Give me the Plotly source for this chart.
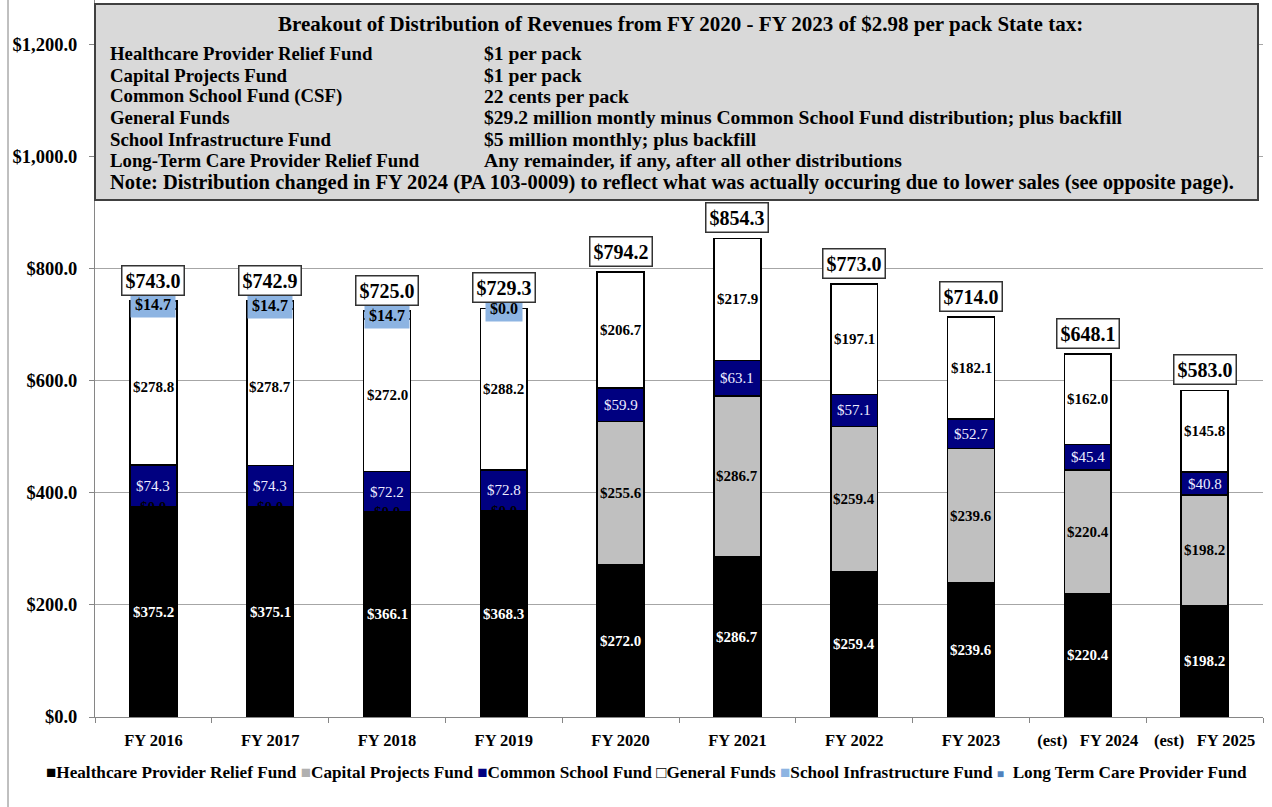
import plotly.graph_objects as go

# ---- data ($ millions) ----
years = ["FY 2016", "FY 2017", "FY 2018", "FY 2019", "FY 2020",
         "FY 2021", "FY 2022", "FY 2023", "FY 2024", "FY 2025"]
year_labels = ["FY 2016", "FY 2017", "FY 2018", "FY 2019", "FY 2020",
               "FY 2021", "FY 2022", "FY 2023",
               "(est)\u00a0\u00a0\u00a0FY 2024", "(est)\u00a0\u00a0\u00a0FY 2025"]

healthcare = [375.2, 375.1, 366.1, 368.3, 272.0, 286.7, 259.4, 239.6, 220.4, 198.2]
capital = [0.0, 0.0, 0.0, 0.0, 255.6, 286.7, 259.4, 239.6, 220.4, 198.2]
common_school = [74.3, 74.3, 72.2, 72.8, 59.9, 63.1, 57.1, 52.7, 45.4, 40.8]
general = [278.8, 278.7, 272.0, 288.2, 206.7, 217.9, 197.1, 182.1, 162.0, 145.8]
school_infra = [14.7, 14.7, 14.7, 0.0, None, None, None, None, None, None]
long_term_care = [0.0] * 10
totals = [743.0, 742.9, 725.0, 729.3, 794.2, 854.3, 773.0, 714.0, 648.1, 583.0]

y_ticks = [0, 200, 400, 600, 800, 1000, 1200]

series = [
    ("Healthcare Provider Relief Fund", healthcare, "#000000"),
    ("Capital Projects Fund", capital, "#C0C0C0"),
    ("Common School Fund", common_school, "#000080"),
    ("General Funds", general, "#FFFFFF"),
    ("School Infrastructure Fund", school_infra, "#8DB4E2"),
    ("Long Term Care Provider Fund", long_term_care, "#4F81BD"),
]

# label styling per series: (color, bold, bgcolor, size)
label_style = {
    "Healthcare Provider Relief Fund": ("#FFFFFF", True, None, 15),
    "Capital Projects Fund": ("#000000", True, None, 15),
    "Common School Fund": ("#EEEEFF", False, None, 15),
    "General Funds": ("#000000", True, None, 15),
    "School Infrastructure Fund": ("#000000", True, "#8DB4E2", 16),
}

box_rows = [
    ("Healthcare Provider Relief Fund", "$1 per pack"),
    ("Capital Projects Fund", "$1 per pack"),
    ("Common School Fund (CSF)", "22 cents per pack"),
    ("General Funds", "$29.2 million montly minus Common School Fund distribution; plus backfill"),
    ("School Infrastructure Fund", "$5 million monthly; plus backfill"),
    ("Long-Term Care Provider Relief Fund", "Any remainder, if any, after all other distributions"),
]
box_title = "Breakout of Distribution of Revenues from FY 2020 - FY 2023 of $2.98 per pack State tax:"
box_note = ("Note: Distribution changed in FY 2024 (PA 103-0009) to reflect what was actually "
            "occuring due to lower sales (see opposite page).")

FONT = "Liberation Serif, Times New Roman, serif"
W, H = 1272, 807
ML, MR, MT, MB = 95, 9, 0, 90
PW, PH = W - ML - MR, H - MT - MB


def px_x(x):
    return (x - ML) / PW


def px_y(y):
    return (H - MB - y) / PH


fig = go.Figure()

for name, vals, color in series:
    fig.add_trace(go.Bar(
        x=years,
        y=[v if v is not None else 0 for v in vals],
        name=name,
        marker=dict(color=color, line=dict(color="#000000", width=1.5)),
        showlegend=False,
        hoverinfo="y+name",
    ))

annotations = []

# segment data labels at the middle of each stacked segment
base = [0.0] * len(years)
for name, vals, color in series:
    for i, v in enumerate(vals):
        if v is None:
            continue
        if name in label_style:
            fc, bold, bg, size = label_style[name]
            txt = f"${v:,.1f}"
            if bold:
                txt = f"<b>{txt}</b>"
            ann = dict(x=years[i], y=base[i] + v / 2, xref="x", yref="y",
                       xanchor="center", yanchor="middle",
                       text=txt, showarrow=False,
                       font=dict(family=FONT, size=size, color=fc))
            if bg:
                ann.update(bgcolor=bg, borderpad=4)
            annotations.append(ann)
        base[i] += v

# totals above bars
for i, t in enumerate(totals):
    annotations.append(dict(
        x=years[i], y=t, xref="x", yref="y", xanchor="center", yanchor="bottom", yshift=5,
        text=f"<b>${t:,.1f}</b>", showarrow=False,
        font=dict(family=FONT, size=20, color="#000000"),
        bgcolor="#FFFFFF", bordercolor="#333333", borderwidth=1.5, borderpad=3,
    ))

# explanation box text
annotations.append(dict(
    x=px_x(680), y=px_y(24), xref="paper", yref="paper",
    xanchor="center", yanchor="middle",
    text=f"<b>{box_title}</b>", showarrow=False,
    font=dict(family=FONT, size=21, color="#000000"),
))
row_y = [54, 75, 96, 118, 139, 160]
for (left, right), yy in zip(box_rows, row_y):
    annotations.append(dict(
        x=px_x(108), y=px_y(yy), xref="paper", yref="paper",
        xanchor="left", yanchor="middle",
        text=f"<b>{left}</b>", showarrow=False,
        font=dict(family=FONT, size=18.8, color="#000000"),
    ))
    annotations.append(dict(
        x=px_x(482), y=px_y(yy), xref="paper", yref="paper",
        xanchor="left", yanchor="middle",
        text=f"<b>{right}</b>", showarrow=False,
        font=dict(family=FONT, size=19.6, color="#000000"),
    ))
annotations.append(dict(
    x=px_x(108), y=px_y(182), xref="paper", yref="paper",
    xanchor="left", yanchor="middle",
    text=f"<b>{box_note}</b>", showarrow=False,
    font=dict(family=FONT, size=20.5, color="#000000"),
))

# legend row
legend_marks = {
    "Healthcare Provider Relief Fund": ("■", "#000000"),
    "Capital Projects Fund": ("■", "#B0B0B0"),
    "Common School Fund": ("■", "#000080"),
    "General Funds": ("□", "#000000"),
    "School Infrastructure Fund": ("■", "#8DB4E2"),
    "Long Term Care Provider Fund": ("■", "#4F81BD"),
}
parts = []
for name, _, _ in series:
    sym, col = legend_marks[name]
    size = 12 if name == "Long Term Care Provider Fund" else 17
    gap = "\u00a0\u00a0" if name == "Long Term Care Provider Fund" else ""
    parts.append(f"<span style='color:{col};font-size:{size}px'>{sym}</span>{gap}<b>{name}</b>")
annotations.append(dict(
    x=px_x(646), y=px_y(772), xref="paper", yref="paper",
    xanchor="center", yanchor="middle",
    text="\u00a0".join(parts), showarrow=False,
    font=dict(family=FONT, size=17.2, color="#000000"),
))

shapes = [
    # explanation box
    dict(type="rect", xref="paper", yref="paper",
         x0=px_x(95), x1=px_x(1258), y0=px_y(200), y1=px_y(4),
         fillcolor="#D9D9D9", line=dict(color="#404040", width=2), layer="above"),
    # page frame line on the left
    dict(type="line", xref="paper", yref="paper",
         x0=px_x(8), x1=px_x(8), y0=px_y(0), y1=px_y(807),
         line=dict(color="#808080", width=1)),
]

fig.update_layout(
    width=W, height=H,
    margin=dict(l=ML, r=MR, t=MT, b=MB),
    barmode="stack",
    bargap=0.6,
    plot_bgcolor="#FFFFFF",
    paper_bgcolor="#FFFFFF",
    font=dict(family=FONT, color="#000000"),
    annotations=annotations,
    shapes=shapes,
    xaxis=dict(
        tickmode="array", tickvals=years, ticktext=[f"<b>{t}</b>" for t in year_labels],
        tickfont=dict(family=FONT, size=16.5, color="#000000"),
        showline=True, linecolor="#868686", linewidth=1,
        ticks="outside", tickson="boundaries", ticklen=5, tickcolor="#868686",
        ticklabelstandoff=8,
        showgrid=False,
    ),
    yaxis=dict(
        range=[0, 1280],
        tickmode="array",
        tickvals=y_ticks,
        ticktext=[f"<b>${v:,.1f}</b>" for v in y_ticks],
        tickfont=dict(family=FONT, size=18.5, color="#000000"),
        showline=True, linecolor="#868686", linewidth=1,
        ticks="outside", ticklen=5, tickcolor="#868686",
        ticklabelstandoff=8,
        showgrid=True, gridcolor="#A6A6A6", gridwidth=1,
        zeroline=False,
    ),
)

fig.write_html("out.html")
